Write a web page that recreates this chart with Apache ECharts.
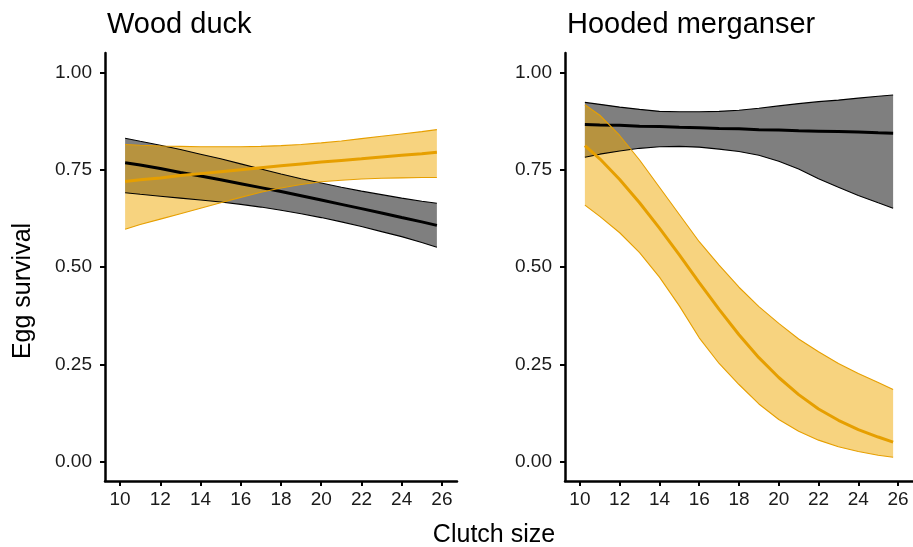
<!DOCTYPE html>
<html>
<head>
<meta charset="utf-8">
<script src="https://cdn.jsdelivr.net/npm/echarts@6/dist/echarts.min.js"></script>
<style>
html,body{margin:0;padding:0;background:#fff;}
#c{width:913px;height:547px;}
</style>
</head>
<body>
<div id="c"></div>
<script>
// ---- data ----
const panelTitles = ['Wood duck', 'Hooded merganser'];
const xTicks = [10, 12, 14, 16, 18, 20, 22, 24, 26];
const yTicks = [0, 0.25, 0.5, 0.75, 1.0];
const clutch = [10.25, 11, 12, 13, 14, 15, 16, 17, 18, 19, 20, 21, 22, 23, 24, 25, 25.75];

// Wood duck
const wdBlackMean  = [0.768,0.762,0.753,0.743,0.734,0.724,0.714,0.704,0.694,0.683,0.672,0.661,0.650,0.639,0.627,0.616,0.607];
const wdBlackUpper = [0.831,0.823,0.813,0.802,0.790,0.778,0.765,0.752,0.739,0.727,0.716,0.705,0.695,0.686,0.677,0.669,0.664];
const wdBlackLower = [0.691,0.687,0.682,0.677,0.672,0.667,0.661,0.654,0.646,0.637,0.627,0.616,0.604,0.591,0.578,0.563,0.551];
const wdOrangeMean  = [0.720,0.724,0.729,0.735,0.740,0.745,0.750,0.755,0.760,0.765,0.770,0.774,0.778,0.783,0.787,0.791,0.795];
const wdOrangeUpper = [0.815,0.813,0.811,0.810,0.809,0.809,0.809,0.810,0.812,0.815,0.819,0.824,0.830,0.836,0.842,0.848,0.853];
const wdOrangeLower = [0.597,0.609,0.623,0.637,0.651,0.665,0.679,0.692,0.703,0.712,0.719,0.723,0.726,0.728,0.729,0.730,0.730];

// Hooded merganser
const hmBlackMean  = [0.866,0.865,0.864,0.862,0.861,0.859,0.858,0.856,0.855,0.853,0.852,0.850,0.849,0.848,0.847,0.845,0.844];
const hmBlackUpper = [0.923,0.918,0.911,0.905,0.900,0.899,0.899,0.900,0.903,0.908,0.914,0.920,0.925,0.929,0.934,0.939,0.942];
const hmBlackLower = [0.782,0.790,0.798,0.805,0.809,0.810,0.808,0.803,0.797,0.787,0.772,0.752,0.727,0.705,0.684,0.665,0.651];
const hmOrangeMean  = [0.812,0.778,0.725,0.665,0.600,0.531,0.460,0.391,0.326,0.267,0.216,0.172,0.135,0.106,0.082,0.063,0.050];
const hmOrangeUpper = [0.917,0.890,0.838,0.775,0.705,0.635,0.565,0.505,0.448,0.398,0.355,0.315,0.282,0.252,0.226,0.203,0.185];
const hmOrangeLower = [0.659,0.630,0.588,0.537,0.474,0.400,0.318,0.252,0.198,0.148,0.108,0.078,0.055,0.038,0.026,0.016,0.011];

// ---- styles ----
const FONT = 'Liberation Sans, Arial, sans-serif';
const TXT = '#1a1a1a';
const BLACK = '#000000';
const ORANGE = '#E69F00';
const GRAY_FILL = 'rgba(0,0,0,0.5)';
const ORANGE_FILL = 'rgba(240,168,0,0.5)';

function pairs(ys) { return clutch.map((x, i) => [x, ys[i]]); }

function bandFill(idx, lower, upper, fill) {
  return {
    type: 'custom', coordinateSystem: 'cartesian2d', xAxisIndex: idx, yAxisIndex: idx,
    silent: true,
    data: [[clutch[0], lower[0]]],
    renderItem: function (params, api) {
      const pts = [];
      for (let i = 0; i < clutch.length; i++) pts.push(api.coord([clutch[i], upper[i]]));
      for (let i = clutch.length - 1; i >= 0; i--) pts.push(api.coord([clutch[i], lower[i]]));
      return { type: 'polygon', shape: { points: pts }, style: { fill: fill, stroke: null } };
    }
  };
}
function line(idx, ys, color, width) {
  return {
    type: 'line', xAxisIndex: idx, yAxisIndex: idx,
    data: pairs(ys), symbol: 'none', silent: true,
    lineStyle: { color: color, width: width }
  };
}
function group(idx, lower, mean, upper, color, fill) {
  return [
    bandFill(idx, lower, upper, fill),
    line(idx, lower, color, 1.1),
    line(idx, upper, color, 1.1),
    line(idx, mean, color, 3)
  ];
}

const series = [
  ...group(0, wdBlackLower, wdBlackMean, wdBlackUpper, BLACK, GRAY_FILL),
  ...group(0, wdOrangeLower, wdOrangeMean, wdOrangeUpper, ORANGE, ORANGE_FILL),
  ...group(1, hmBlackLower, hmBlackMean, hmBlackUpper, BLACK, GRAY_FILL),
  ...group(1, hmOrangeLower, hmOrangeMean, hmOrangeUpper, ORANGE, ORANGE_FILL)
];

function xAxis(idx) {
  return {
    type: 'value', gridIndex: idx, min: 9.25, max: 26.75,
    splitLine: { show: false },
    axisLine: { show: true, onZero: false, lineStyle: { color: '#000', width: 2.5 } },
    axisTick: { show: true, length: 5, lineStyle: { color: '#000', width: 2 }, customValues: xTicks },
    axisLabel: { show: true, customValues: xTicks, margin: 9, color: TXT, fontSize: 19, fontFamily: FONT,
      formatter: v => String(v) }
  };
}
function yAxis(idx) {
  return {
    type: 'value', gridIndex: idx, min: -0.05, max: 1.05,
    splitLine: { show: false },
    axisLine: { show: true, onZero: false, lineStyle: { color: '#000', width: 2.5 } },
    axisTick: { show: true, length: 5, lineStyle: { color: '#000', width: 2 }, customValues: yTicks },
    axisLabel: { show: true, customValues: yTicks, margin: 13, color: TXT, fontSize: 19, fontFamily: FONT,
      formatter: v => v.toFixed(2) }
  };
}

const chart = echarts.init(document.getElementById('c'), null, { renderer: 'canvas' });
chart.setOption({
  animation: false,
  backgroundColor: '#ffffff',
  grid: [
    { left: 105, top: 53, width: 352, height: 428 },
    { left: 565, top: 53, width: 352, height: 428 }
  ],
  xAxis: [xAxis(0), xAxis(1)],
  yAxis: [yAxis(0), yAxis(1)],
  series: series,
  graphic: [
    { type: 'text', left: 107, top: 10, style: { text: panelTitles[0], fill: '#000', font: '29px ' + FONT } },
    { type: 'text', left: 567, top: 10, style: { text: panelTitles[1], fill: '#000', font: '29px ' + FONT } },
    { type: 'text', x: 494, y: 535, style: { text: 'Clutch size', fill: '#000', font: '25px ' + FONT, align: 'center', verticalAlign: 'middle' } },
    { type: 'text', x: 23, y: 291, rotation: Math.PI / 2, style: { text: 'Egg survival', fill: '#000', font: '25px ' + FONT, align: 'center', verticalAlign: 'middle' } }
  ]
});
</script>
</body>
</html>
